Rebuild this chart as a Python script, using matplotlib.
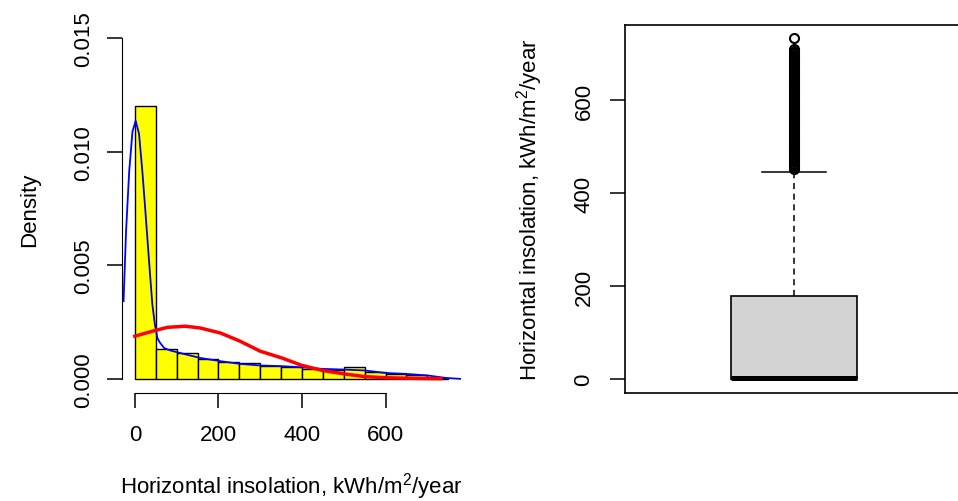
import matplotlib
matplotlib.use("Agg")
import matplotlib.pyplot as plt

plt.rcParams['font.family'] = ['Liberation Sans', 'DejaVu Sans']
plt.rcParams['mathtext.fontset'] = 'custom'
plt.rcParams['mathtext.rm'] = 'Liberation Sans'
plt.rcParams['mathtext.default'] = 'regular'

# histogram (density scale), bins of 50 kWh/m2/year
bin_left = [0, 50, 100, 150, 200, 250, 300, 350, 400, 450, 500, 550, 600, 650, 700]
hist_density = [0.01200, 0.00132, 0.00114, 0.00089, 0.00075, 0.00069, 0.00056, 0.00051,
                0.00044, 0.00037, 0.00051, 0.00031, 0.00022, 0.00019, 0.00004]

# kernel density estimate (blue)
kde_x = [-27, -21, -13.5, -5.6, 2, 10, 18, 24, 30, 36, 42, 48, 54, 60, 70, 85, 102, 130,
         157, 205, 252, 300, 352, 399, 449, 501, 550, 600, 649, 701, 745, 780]
kde_y = [0.00342, 0.0065, 0.00914, 0.0109, 0.01137, 0.0108, 0.00914, 0.0077, 0.0062, 0.0047,
         0.00327, 0.0024, 0.0018, 0.0016, 0.00136, 0.00125, 0.00117, 0.00104,
         0.00092, 0.00078, 0.00066, 0.00059, 0.00056, 0.00051, 0.00044, 0.00041,
         0.00037, 0.00026, 0.00022, 0.00015, 0.00004, 0.0]

# fitted normal curve (red)
norm_x = [0, 46, 78, 121, 157, 205, 252, 300, 352, 399, 449, 501, 550, 600, 649, 733]
norm_y = [0.00188, 0.00212, 0.00227, 0.00232, 0.00224, 0.00202, 0.00166, 0.00122,
          0.00092, 0.0006, 0.00037, 0.00022, 0.0001, 0.00005, 0.00003, 0.00001]

# boxplot summary
box_q1 = 0
box_median = 2
box_q3 = 179
whisker_low = 0
whisker_high = 446
outliers = [452, 455, 458, 461, 464, 467, 470, 473, 476, 479, 482, 485, 488, 491, 494, 497,
            500, 503, 506, 509, 512, 515, 518, 521, 524, 527, 530, 533, 536, 539, 542, 545,
            548, 551, 554, 557, 560, 563, 566, 569, 572, 575, 578, 581, 584, 587, 590, 593,
            596, 599, 602, 605, 608, 611, 614, 617, 620, 623, 626, 629, 632, 635, 638, 641,
            644, 647, 650, 653, 656, 659, 662, 665, 668, 671, 674, 677, 680, 683, 686, 689,
            692, 695, 698, 701, 704, 707, 710, 734]

xlabel = 'Horizontal insolation, kWh/m$^{2}$/year'

W, H = 958, 502
fig = plt.figure(figsize=(W / 100, H / 100), dpi=100)

ax_left, ax_top, ax_bottom, ax_w = 122.3, 25.7, 393.5, 338.4
ax1 = fig.add_axes([ax_left / W, (H - ax_bottom) / H, ax_w / W, (ax_bottom - ax_top) / H])
ax2 = fig.add_axes([625 / W, (H - ax_bottom) / H, ax_w / W, (ax_bottom - ax_top) / H])

# left: histogram with densities
ax1.bar(bin_left, hist_density, width=50, align='edge', color='yellow',
        edgecolor='black', linewidth=1.0)
ax1.plot(kde_x, kde_y, color='blue', lw=1.3)
ax1.plot(norm_x, norm_y, color='red', lw=2.5)
ax1.set_xlim(-30, 780)
ax1.set_ylim(-0.0006, 0.0156)
for s in ['top', 'right']:
    ax1.spines[s].set_visible(False)
ax1.spines['left'].set_bounds(0, 0.015)
ax1.spines['bottom'].set_bounds(0, 600)
ax1.set_xticks([0, 200, 400, 600])
ax1.set_yticks([0, 0.005, 0.010, 0.015])
ax1.set_yticklabels(['0.000', '0.005', '0.010', '0.015'], rotation=90, va='center')
ax1.tick_params(axis='x', direction='out', length=10.5, width=1.1, labelsize=16, pad=12)
ax1.tick_params(axis='y', direction='out', length=10.5, width=1.1, labelsize=16, pad=9.5)
ax1.set_xlabel(xlabel, fontsize=16, va='center')
ax1.xaxis.set_label_coords(0.5, -0.254)
ax1.set_ylabel('Density', fontsize=16, va='center')
ax1.yaxis.set_label_coords(-0.273, 0.5)

# right: boxplot
stats = [dict(med=box_median, q1=box_q1, q3=box_q3, whislo=whisker_low,
              whishi=whisker_high, fliers=outliers)]
ax2.bxp(stats, positions=[1], widths=0.371, capwidths=0.19, patch_artist=True,
        boxprops=dict(facecolor='#D3D3D3', edgecolor='black', linewidth=1.2),
        medianprops=dict(color='black', linewidth=3.6, solid_capstyle='butt'),
        whiskerprops=dict(color='black', linewidth=1.1, linestyle=(0, (4, 3))),
        capprops=dict(color='black', linewidth=1.1),
        flierprops=dict(marker='o', markerfacecolor='none', markeredgecolor='black',
                        markersize=6.5, markeredgewidth=1.5, snap=False))
ax2.set_xlim(0.5, 1.5)
ax2.set_ylim(-29, 763)
ax2.set_xticks([])
ax2.set_yticks([0, 200, 400, 600])
ax2.set_yticklabels(['0', '200', '400', '600'], rotation=90, va='center')
ax2.tick_params(axis='y', direction='out', length=10.5, width=1.1, labelsize=16, pad=11.5)
for s in ax2.spines.values():
    s.set_linewidth(1.2)
ax2.set_ylabel(xlabel, fontsize=16, va='center')
ax2.yaxis.set_label_coords(-0.281, 0.5)

fig.savefig('out.png', dpi=100)
